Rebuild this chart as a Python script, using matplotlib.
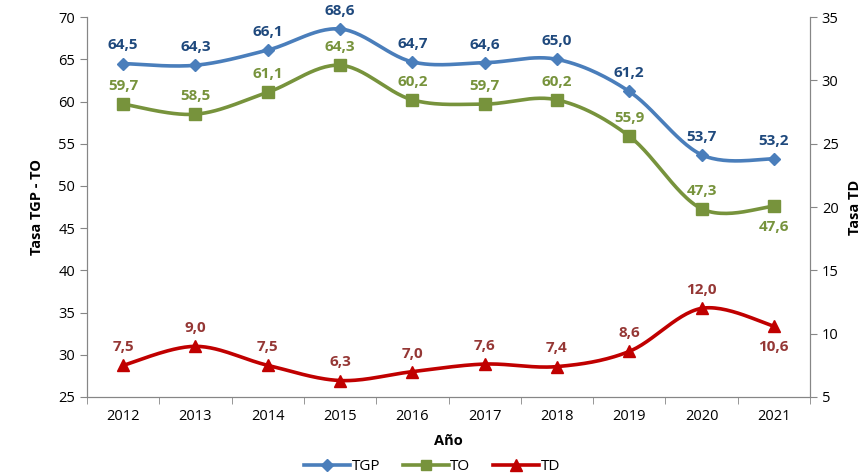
import numpy as np
import matplotlib
matplotlib.use('Agg')
import matplotlib.pyplot as plt
from matplotlib.lines import Line2D

plt.rcParams['font.family'] = ['Open Sans', 'DejaVu Sans']

# datos
anios = ['2012', '2013', '2014', '2015', '2016', '2017', '2018', '2019', '2020', '2021']
tgp = [64.5, 64.3, 66.1, 68.6, 64.7, 64.6, 65.0, 61.2, 53.7, 53.2]
to = [59.7, 58.5, 61.1, 64.3, 60.2, 59.7, 60.2, 55.9, 47.3, 47.6]
td = [7.5, 9.0, 7.5, 6.3, 7.0, 7.6, 7.4, 8.6, 12.0, 10.6]


def suavizar(x, y, n=30):
    # curva tipo Catmull-Rom, parecida al suavizado de Excel
    x = np.asarray(x, float)
    y = np.asarray(y, float)
    px = np.concatenate([[x[0]], x, [x[-1]]])
    py = np.concatenate([[y[0]], y, [y[-1]]])
    xs, ys = [], []
    t = np.linspace(0, 1, n)
    for i in range(1, len(px) - 2):
        p0, p1, p2, p3 = (np.array([px[j], py[j]]) for j in range(i - 1, i + 3))
        c1 = p1 + (p2 - p0) / 6
        c2 = p2 - (p3 - p1) / 6
        b = ((1 - t) ** 3)[:, None] * p1 + (3 * (1 - t) ** 2 * t)[:, None] * c1 \
            + (3 * (1 - t) * t ** 2)[:, None] * c2 + (t ** 3)[:, None] * p2
        xs.extend(b[:, 0])
        ys.extend(b[:, 1])
    return np.array(xs), np.array(ys)


def fmt(v):
    return ('%.1f' % v).replace('.', ',')


fig = plt.figure(figsize=(8.64, 4.76), dpi=100)
ax = fig.add_axes([0.1007, 0.166, 0.8368, 0.798])
ax2 = ax.twinx()

x = np.arange(len(anios))

c_tgp, c_to, c_td = '#4A7EBB', '#77933C', '#C00000'
l_tgp, l_to, l_td = '#1F497D', '#77933C', '#953735'

sx, sy = suavizar(x, tgp)
ax.plot(sx, sy, color=c_tgp, lw=2.6, zorder=3)
ax.plot(x, tgp, ls='none', marker='D', ms=6.5, color=c_tgp, zorder=4)
sx, sy = suavizar(x, to)
ax.plot(sx, sy, color=c_to, lw=2.6, zorder=3)
ax.plot(x, to, ls='none', marker='s', ms=8.5, color=c_to, zorder=4)
sx, sy = suavizar(x, td)
ax2.plot(sx, sy, color=c_td, lw=2.6, zorder=3)
ax2.plot(x, td, ls='none', marker='^', ms=9, color=c_td, zorder=4)

fs_lab = 11
for i, v in enumerate(tgp):
    ax.annotate(fmt(v), (i, v), xytext=(0, 8), textcoords='offset points',
                ha='center', va='bottom', color=l_tgp, fontsize=fs_lab, fontweight='bold')
for i, v in enumerate(to):
    ultimo = i == len(to) - 1
    ax.annotate(fmt(v), (i, v), xytext=(0, -10) if ultimo else (0, 8),
                textcoords='offset points', ha='center',
                va='top' if ultimo else 'bottom', color=l_to,
                fontsize=fs_lab, fontweight='bold')
for i, v in enumerate(td):
    ultimo = i == len(td) - 1
    ax2.annotate(fmt(v), (i, v), xytext=(0, -10) if ultimo else (0, 8),
                 textcoords='offset points', ha='center',
                 va='top' if ultimo else 'bottom', color=l_td,
                 fontsize=fs_lab, fontweight='bold')

ax.set_xlim(-0.5, len(anios) - 0.5)
ax.set_ylim(25, 70)
ax.set_yticks(range(25, 71, 5))
ax2.set_ylim(5, 35)
ax2.set_yticks(range(5, 36, 5))
ax.set_xticks(x)
ax.set_xticklabels(anios)
ax.set_xticks(np.arange(-0.5, len(anios), 1), minor=True)
ax.tick_params(axis='x', which='major', length=0, pad=9, labelsize=10.5)
ax.tick_params(axis='x', which='minor', length=5, color='#868686')
ax.tick_params(axis='y', labelsize=10.5, color='#868686', length=5)
ax2.tick_params(axis='y', labelsize=10.5, color='#868686', length=5)

for a in (ax, ax2):
    a.spines['top'].set_visible(False)
    for s in ('left', 'right', 'bottom'):
        a.spines[s].set_color('#868686')

ax.set_xlabel('Año', fontsize=10.5, fontweight='bold', labelpad=7)
ax.set_ylabel('Tasa TGP - TO', fontsize=10.5, fontweight='bold', labelpad=10)
ax2.set_ylabel('Tasa TD', fontsize=10.5, fontweight='bold', labelpad=7)

handles = [Line2D([], [], color=c_tgp, lw=2.6, marker='D', ms=6.5),
           Line2D([], [], color=c_to, lw=2.6, marker='s', ms=7.5),
           Line2D([], [], color=c_td, lw=2.6, marker='^', ms=8)]
fig.legend(handles, ['TGP', 'TO', 'TD'], loc='lower center', ncol=3, frameon=False,
           fontsize=11, bbox_to_anchor=(0.5, -0.025), handlelength=3,
           handletextpad=0.1, columnspacing=1.5)

fig.savefig('out.png', dpi=100)
